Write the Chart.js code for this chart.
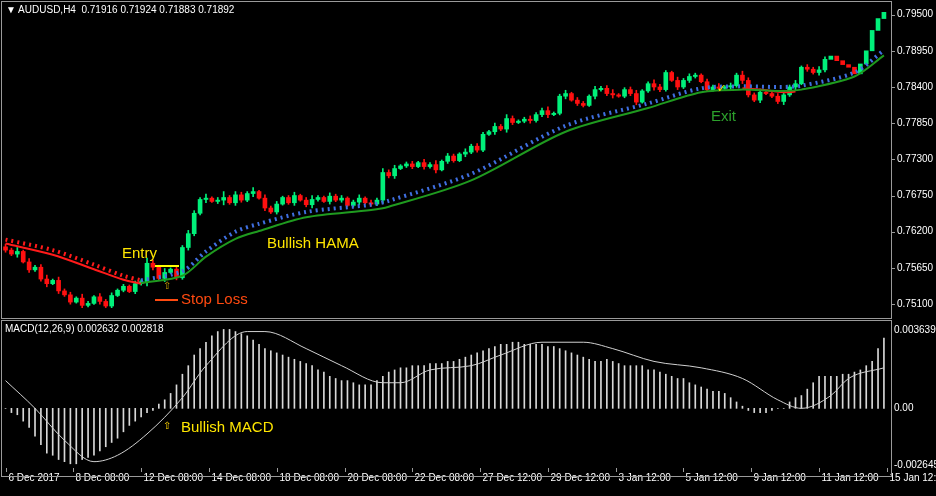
<!DOCTYPE html>
<html lang="en">
<head>
<meta charset="UTF-8">
<title>AUDUSD H4</title>
<script src="https://cdn.jsdelivr.net/npm/chart.js"></script>
<style>
    body { margin: 0; background: #000; width: 936px; height: 496px; overflow: hidden; font-family: "Liberation Sans", Arial, sans-serif; }
    #main { position: absolute; left: 0; top: 0; width: 936px; height: 320px; }
    #macd { position: absolute; left: 0; top: 320px; width: 936px; height: 176px; }
    .frame { position: absolute; border: 1px solid #9a9a9a; pointer-events: none; }
    .lbl { position: absolute; white-space: nowrap; }
    .small { font-family: "Liberation Sans", Arial, sans-serif; font-size: 10px; color: #fff; }
    .mark { position: absolute; height: 2px; }
</style>
</head>
<body>
<div id="main"><canvas id="mainChart"></canvas></div>
<div id="macd"><canvas id="macdChart"></canvas></div>
<div class="frame" style="left:1px;top:1px;width:889px;height:316px"></div>
<div class="frame" style="left:1px;top:320px;width:889px;height:155px"></div>

<div class="lbl small" style="left:6px;top:4px">&#9660; AUDUSD,H4&nbsp; 0.71916 0.71924 0.71883 0.71892</div>
<div class="lbl small" style="left:5px;top:323px">MACD(12,26,9) 0.002632 0.002818</div>
<div class="lbl" style="left:122px;top:244px;color:#ffe600;font-size:15px">Entry</div>
<div class="mark" style="left:155px;top:265px;width:24px;background:#ffff00"></div>
<div class="mark" style="left:155px;top:299px;width:23px;background:#ff4a10"></div>
<div class="lbl" style="left:181px;top:290px;color:#ff4a10;font-size:15px">Stop Loss</div>
<div class="lbl" style="left:163px;top:280px;color:#c8a000;font-size:10px">&#8679;</div>
<div class="lbl" style="left:267px;top:234px;color:#ffe600;font-size:15px">Bullish HAMA</div>
<div class="lbl" style="left:711px;top:107px;color:#2ca02c;font-size:15px">Exit</div>
<div class="lbl" style="left:717px;top:82px;color:#ffe600;font-size:11px">&#10003;</div>
<div class="lbl" style="left:163px;top:420px;color:#ffd400;font-size:10px">&#8679;</div>
<div class="lbl" style="left:181px;top:418px;color:#ffe600;font-size:15px">Bullish MACD</div>

<script>
    // closing prices, one per H4 bar (open = previous close)
    const closes = [
        .7592,.7586,.7590,.7574,.7562,.7566,.7548,.7541,.7546,.7530,
        .7524,.7513,.7519,.7508,.7511,.7521,.7514,.7507,.7523,.7531,
        .7537,.7529,.7541,.7544,.7572,.7566,.7549,.7558,.7563,.7550,
        .7596,.7617,.7648,.7669,.7671,.7666,.7668,.7672,.7664,.7676,
        .7668,.7678,.7681,.7671,.7656,.7650,.7662,.7672,.7664,.7675,
        .7668,.7661,.7669,.7672,.7666,.7674,.7668,.7671,.7660,.7665,
        .7671,.7664,.7662,.7668,.7710,.7705,.7716,.7720,.7723,.7719,
        .7725,.7719,.7722,.7714,.7727,.7735,.7728,.7738,.7741,.7750,
        .7744,.7768,.7772,.7780,.7776,.7792,.7786,.7788,.7791,.7789,
        .7798,.7804,.7798,.7800,.7826,.7830,.7820,.7815,.7812,.7826,
        .7836,.7838,.7830,.7828,.7826,.7836,.7830,.7817,.7834,.7845,
        .7840,.7836,.7862,.7850,.7840,.7850,.7856,.7858,.7848,.7836,
        .7840,.7838,.7840,.7842,.7858,.7850,.7828,.7820,.7832,.7830,
        .7826,.7818,.7828,.7840,.7845,.7870,.7867,.7862,.7866,.7882,
        .7887,.7880,.7874,.7870,.7860,.7875,.7895,.7926,.7944,.7960
    ];
    const firstOpen = 0.7597;
    // wick length in pips beyond the body
    const wicks = [
        4,3,6,2,5,3,4,6,2,5, 3,4,2,6,3,2,5,3,4,2, 3,2,4,3,8,5,3,6,2,4,
        3,5,4,3,6,2,4,9,3,5, 4,3,6,2,5,3,4,2,3,5, 2,4,6,3,2,5,3,4,2,3,
        5,2,4,3,6,4,5,2,3,4, 2,5,3,6,2,4,3,2,5,3, 4,3,2,5,3,6,4,2,3,5,
        3,4,6,2,3,5,2,4,3,2, 5,3,4,6,2,3,4,5,2,3, 6,4,3,2,5,3,4,3,2,4,
        3,5,2,4,3,6,4,3,5,2, 3,4,6,3,5,2,4,3,5,4
    ];
    // MACD main values (histogram)
    const macdHist = [
        .0000,-.0002,-.0003,-.0006,-.0009,-.0013,-.0017,-.0021,-.0022,-.0024,
        -.0025,-.0026,-.0026,-.0024,-.0023,-.0022,-.0020,-.0018,-.0016,-.0014,
        -.0011,-.0008,-.0006,-.0004,-.0002,-.0001,.0002,.0004,.0007,.0011,
        .0016,.0020,.0025,.0028,.0031,.0034,.0036,.0037,.0037,.0036,
        .0035,.0034,.0032,.0030,.0028,.0027,.0026,.0025,.0024,.0023,
        .0022,.0021,.0020,.0018,.0017,.0015,.0014,.0013,.0013,.0012,
        .0011,.0011,.0011,.0013,.0015,.0017,.0018,.0019,.0019,.0020,
        .0020,.0020,.0021,.0021,.0021,.0022,.0022,.0023,.0024,.0025,
        .0026,.0027,.0028,.0029,.0030,.0030,.0031,.0031,.0030,.0030,
        .0030,.0030,.0029,.0029,.0028,.0027,.0026,.0025,.0024,.0023,
        .0022,.0022,.0023,.0022,.0021,.0020,.0020,.0020,.0020,.0018,
        .0018,.0017,.0016,.0015,.0014,.0014,.0012,.0011,.0010,.0009,
        .0008,.0008,.0007,.0005,.0003,.0001,-.0001,-.0002,-.0002,-.0002,
        -.0001,.0000,.0000,.0003,.0005,.0006,.0009,.0012,.0015,.0015,
        .0015,.0015,.0016,.0016,.0017,.0018,.0020,.0022,.0028,.0033
    ];
    // MACD signal line, [bar, value]
    const macdSignal = [
        [0,.0013],[5,.0000],[10,-.0015],[15,-.0025],[19,-.0022],[24,-.0012],[30,.0005],
        [34,.0020],[41,.0036],[44,.0036],[51,.0028],[57,.0020],[64,.0012],[67,.0012],
        [72,.0018],[79,.0020],[84,.0025],[91,.0031],[98,.0031],[103,.0028],[110,.0022],
        [118,.0019],[125,.0014],[131,.0004],[135,.0000],[140,.0006],[143,.0014],[149,.0019]
    ];
    // HAMA lines, [bar, price]
    const hamaGreen = [
        [23,.7542],[30,.7553],[34,.7582],[39,.7609],[43,.7621],[51,.7642],[62,.7653],
        [65,.7658],[79,.7698],[95,.7772],[109,.7808],[118,.7832],[125,.7836],[131,.7834],
        [135,.7836],[144,.7856],[149,.7888]
    ];
    const hamaBlue = [
        [23,.7546],[30,.7560],[34,.7590],[39,.7620],[43,.7632],[51,.7650],[62,.7661],
        [65,.7667],[79,.7708],[95,.7781],[109,.7815],[118,.7838],[125,.7841],[131,.7840],
        [135,.7842],[144,.7862],[149,.7896]
    ];
    const hamaRed = [[0,.7602],[8,.7585],[15,.7563],[20,.7547],[23,.7541]];
    const hamaRedDots = [[0,.7608],[8,.7592],[15,.7570],[20,.7553],[23,.7546]];
    const hamaRedExit = [[125,.7838],[128,.7836],[132,.7832],[134,.7833]];
    // price axis and time labels
    const priceTicks = [.7510,.7565,.7620,.7675,.7730,.7785,.7840,.7895,.7950];
    const timeLabels = [
        [0,"6 Dec 2017"],[11.5,"8 Dec 08:00"],[23,"12 Dec 08:00"],[34.5,"14 Dec 08:00"],
        [46,"18 Dec 08:00"],[57.5,"20 Dec 08:00"],[69,"22 Dec 08:00"],[80.5,"27 Dec 12:00"],
        [92,"29 Dec 12:00"],[103.5,"3 Jan 12:00"],[115,"5 Jan 12:00"],[126.5,"9 Jan 12:00"],
        [138,"11 Jan 12:00"],[149.5,"15 Jan 12:00"]
    ];

    const GREEN = "#00f07a", RED = "#ff1010";
    const bodies = [], wickBars = [], colors = [];
    closes.forEach((c, i) => {
        const o = i === 0 ? firstOpen : closes[i - 1];
        const w = wicks[i] * 0.0001;
        let top = Math.max(o, c), bot = Math.min(o, c);
        if (top - bot < 0.00008) { top += 0.00004; bot -= 0.00004; }
        bodies.push({ x: i, y: [bot, top] });
        wickBars.push({ x: i, y: [bot - w * 0.8, top + w] });
        colors.push(c >= o ? GREEN : RED);
    });
    const pts = a => a.map(p => ({ x: p[0], y: p[1] }));

    const xScale = {
        type: "linear", min: -0.6, max: 150.2, offset: false,
        grid: { display: false }, border: { display: false }, ticks: { display: false }
    };
    const rightWidth = scale => { scale.width = 45; };
    const tickFont = { family: "'Liberation Sans', Arial, sans-serif", size: 10 };

    new Chart(document.getElementById("mainChart"), {
        data: {
            datasets: [
                { type: "bar", data: wickBars, backgroundColor: colors, barThickness: 1, grouped: false, order: 3 },
                { type: "bar", data: bodies, backgroundColor: colors, barThickness: 4, grouped: false, order: 2 },
                { type: "line", data: pts(hamaBlue), borderColor: "#3f6fe0", borderWidth: 4, borderDash: [2, 4], pointRadius: 0, tension: 0.3, order: 1 },
                { type: "line", data: pts(hamaRedDots), borderColor: "#ff1a1a", borderWidth: 4, borderDash: [2, 4], pointRadius: 0, tension: 0.3, order: 1 },
                { type: "line", data: pts(hamaGreen), borderColor: "#1f9a1f", borderWidth: 2, pointRadius: 0, tension: 0.3, order: 0 },
                { type: "line", data: pts(hamaRed), borderColor: "#ff1a1a", borderWidth: 2, pointRadius: 0, tension: 0.3, order: 0 },
                { type: "line", data: pts(hamaRedExit), borderColor: "#ff1a1a", borderWidth: 2, pointRadius: 0, tension: 0.3, order: 0 }
            ]
        },
        options: {
            responsive: true, maintainAspectRatio: false, animation: false,
            layout: { padding: { left: 2, top: 2, bottom: 2, right: 0 } },
            plugins: { legend: { display: false }, tooltip: { enabled: false } },
            scales: {
                x: xScale,
                y: {
                    position: "right", min: 0.7504, max: 0.7954,
                    afterFit: rightWidth,
                    afterBuildTicks: s => { s.ticks = priceTicks.map(v => ({ value: v })); },
                    grid: { display: false, drawTicks: false },
                    border: { display: false },
                    ticks: { color: "#fff", font: tickFont, padding: 6, callback: v => v.toFixed(5) }
                }
            }
        },
        plugins: [{
            id: "tickMarks",
            afterDraw(chart) {
                const y = chart.scales.y, ctx = chart.ctx;
                ctx.save();
                ctx.strokeStyle = "#9a9a9a";
                priceTicks.forEach(v => {
                    const py = Math.round(y.getPixelForValue(v)) + 0.5;
                    ctx.beginPath(); ctx.moveTo(891, py); ctx.lineTo(895, py); ctx.stroke();
                });
                ctx.restore();
            }
        }]
    });

    new Chart(document.getElementById("macdChart"), {
        data: {
            datasets: [
                { type: "bar", data: macdHist.map((v, i) => ({ x: i, y: v })), backgroundColor: "#d8d8d8", barThickness: 1, order: 2 },
                { type: "line", data: pts(macdSignal), borderColor: "#d0d0d0", borderWidth: 1, pointRadius: 0, tension: 0.4, cubicInterpolationMode: "monotone", order: 1 }
            ]
        },
        options: {
            responsive: true, maintainAspectRatio: false, animation: false,
            layout: { padding: { left: 2, top: 2, bottom: 21, right: 0 } },
            plugins: { legend: { display: false }, tooltip: { enabled: false } },
            scales: {
                x: xScale,
                y: {
                    position: "right", min: -0.00275, max: 0.00372,
                    afterFit: rightWidth,
                    afterBuildTicks: s => { s.ticks = [0.003639, 0, -0.002645].map(v => ({ value: v })); },
                    grid: { display: false, drawTicks: false },
                    border: { display: false },
                    ticks: { color: "#fff", font: tickFont, padding: 3,
                        callback: v => v === 0 ? "0.00" : v.toFixed(6) }
                }
            }
        },
        plugins: [{
            id: "timeAxis",
            afterDraw(chart) {
                const x = chart.scales.x, ctx = chart.ctx;
                const base = chart.chartArea.bottom + 1;
                ctx.save();
                ctx.strokeStyle = "#9a9a9a";
                ctx.fillStyle = "#fff";
                ctx.font = "10px 'Liberation Sans', Arial, sans-serif";
                ctx.textBaseline = "top";
                timeLabels.forEach(([b, t]) => {
                    const px = Math.round(x.getPixelForValue(b)) + 0.5;
                    ctx.beginPath(); ctx.moveTo(px, base); ctx.lineTo(px, base + 4); ctx.stroke();
                    ctx.fillText(t, px + 2, base + 5);
                });
                ctx.restore();
            }
        }]
    });
</script>
</body>
</html>
